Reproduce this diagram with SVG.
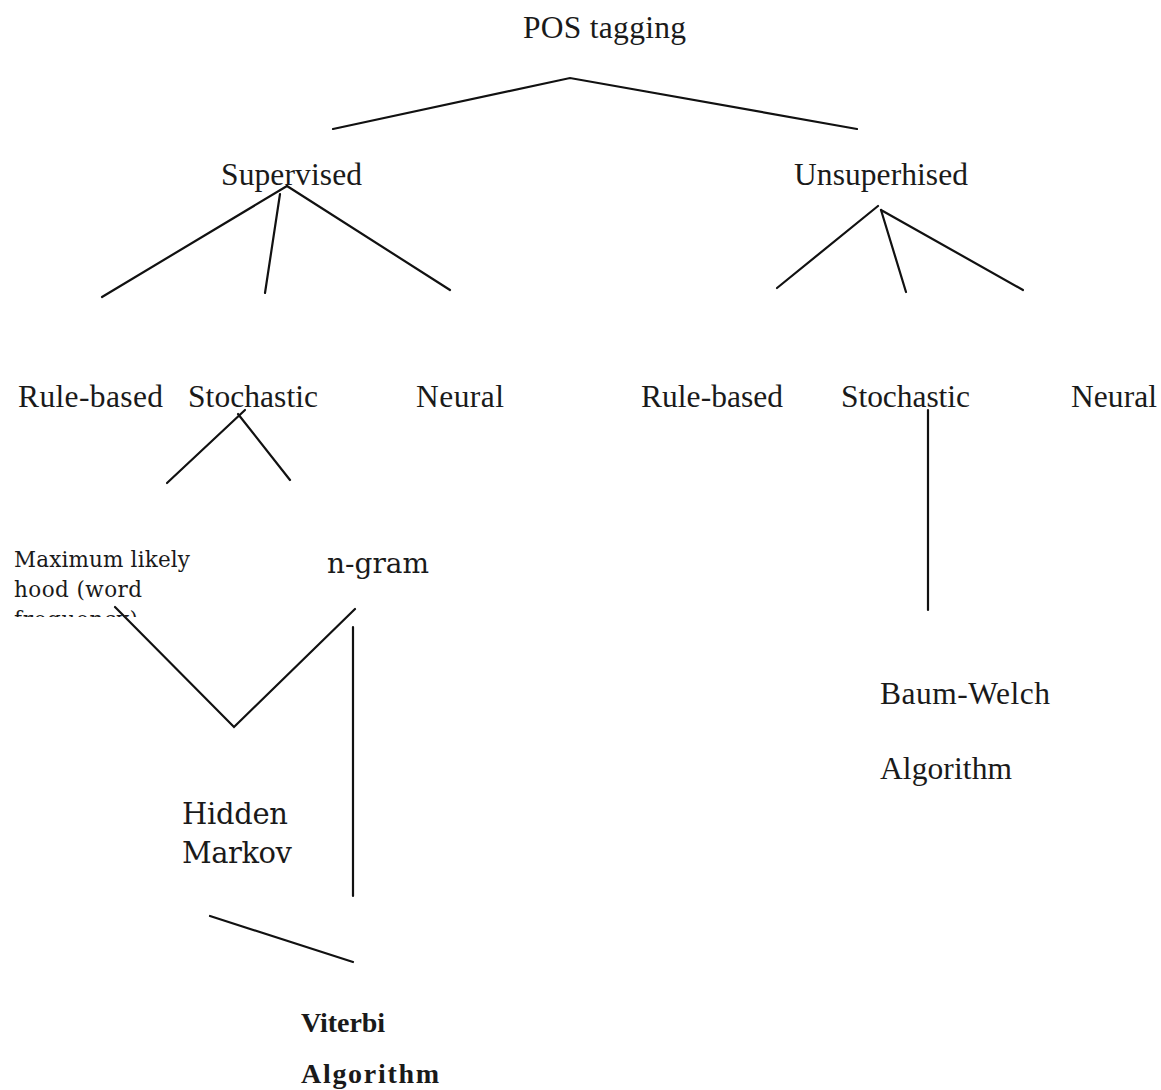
<svg xmlns="http://www.w3.org/2000/svg" width="1161" height="1090" viewBox="0 0 1161 1090">
  <defs>
    <style>
      .t { font-family: "Liberation Serif", "Times New Roman", serif; font-size: 31.5px; fill: #1a1a1a; }
      .b { font-family: "Liberation Serif", "Times New Roman", serif; font-size: 28px; font-weight: bold; fill: #1a1a1a; }
      .p { font-family: "DejaVu Serif", "Liberation Serif", serif; fill: #1a1a1a; }
      .edge { stroke: #111; stroke-width: 2.2; fill: none; stroke-linecap: round; }
    </style>
    <clipPath id="boxClip">
      <rect x="0" y="540" width="200" height="77"/>
    </clipPath>
  </defs>
  <rect width="1161" height="1090" fill="#fff"/>

  <g id="connectors">
    <polyline class="edge" points="333,129 570,78 857,129"/>
    <line class="edge" x1="287" y1="186" x2="102" y2="297"/>
    <line class="edge" x1="280" y1="194" x2="265" y2="293"/>
    <line class="edge" x1="287" y1="186" x2="450" y2="290"/>
    <line class="edge" x1="878" y1="206" x2="777" y2="288"/>
    <line class="edge" x1="881" y1="210" x2="906" y2="292"/>
    <line class="edge" x1="881" y1="210" x2="1023" y2="290"/>
    <line class="edge" x1="245" y1="410" x2="167" y2="483"/>
    <line class="edge" x1="238" y1="414" x2="290" y2="480"/>
    <line class="edge" x1="928" y1="410" x2="928" y2="610"/>
    <polyline class="edge" points="115,607 234,727 355,609"/>
    <line class="edge" x1="353" y1="627" x2="353" y2="896"/>
    <line class="edge" x1="210" y1="916" x2="353" y2="962"/>
  </g>

  <g id="pos-tagging"><text class="t" x="523" y="38" textLength="163">POS tagging</text></g>
  <g id="supervised"><text class="t" x="221" y="185" textLength="141">Supervised</text></g>
  <g id="unsupervised"><text class="t" x="794" y="185" textLength="174">Unsuperhised</text></g>

  <g id="sup-rule-based"><text class="t" x="18" y="407" textLength="145">Rule-based</text></g>
  <g id="sup-stochastic"><text class="t" x="188" y="407" textLength="130">Stochastic</text></g>
  <g id="sup-neural"><text class="t" x="416" y="407" textLength="88">Neural</text></g>
  <g id="unsup-rule-based"><text class="t" x="641" y="407" textLength="142">Rule-based</text></g>
  <g id="unsup-stochastic"><text class="t" x="841" y="407" textLength="129">Stochastic</text></g>
  <g id="unsup-neural"><text class="t" x="1071" y="407" textLength="86">Neural</text></g>

  <g id="max-likelihood" clip-path="url(#boxClip)">
    <text class="p" font-size="21.5" x="14" y="567" textLength="176">Maximum likely</text>
    <text class="p" font-size="21.5" x="14" y="597" textLength="128">hood (word</text>
    <text class="p" font-size="21.5" x="14" y="627" textLength="124">frequency)</text>
  </g>
  <g id="n-gram"><text class="p" font-size="28" x="327" y="573">n-gram</text></g>
  <g id="hidden-markov">
    <text class="p" font-size="29" x="182" y="824" textLength="106">Hidden</text>
    <text class="p" font-size="29" x="182" y="863" textLength="110">Markov</text>
  </g>
  <g id="viterbi">
    <text class="b" x="301" y="1032" textLength="84">Viterbi</text>
    <text class="b" x="301" y="1083" textLength="138">Algorithm</text>
  </g>
  <g id="baum-welch">
    <text class="t" x="880" y="704" textLength="170">Baum-Welch</text>
    <text class="t" x="880" y="779" textLength="132">Algorithm</text>
  </g>
</svg>
